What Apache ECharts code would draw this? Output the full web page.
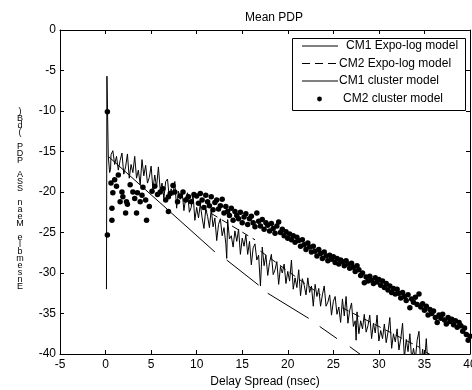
<!DOCTYPE html>
<html><head><meta charset="utf-8">
<script src="https://cdn.jsdelivr.net/npm/echarts@6/dist/echarts.min.js"></script>
<style>html,body{margin:0;padding:0;background:#fff}#c{width:472px;height:390px}</style>
</head><body><div id="c"></div>
<script>
const chartTitle = 'Mean PDP';
const xName = 'Delay Spread (nsec)';
const yName = 'Ensemble Mean SSA PDP (dB)';
const seriesNames = ['CM1 Expo-log model', 'CM2 Expo-log model', 'CM1 cluster model', 'CM2 cluster model'];
const xMin = -5, xMax = 40, yMin = -40, yMax = 0, tickStep = 5;

// CM1 Expo-log model: straight decaying cluster segments ('-' = gap)
const cm1Expo = [
  [0.3,-15.6],[12.0,-27.4],[12.6,'-'],
  [13.3,-28.4],[16.8,-31.5],[17.3,'-'],
  [17.8,-32.5],[22.3,-35.6],[22.9,'-'],
  [23.5,-36.6],[25.4,-38.1],[26.1,'-'],
  [26.8,-39.1],[28.4,-40.4]
];
// CM2 Expo-log model (dashed)
const cm2Expo = [
  [10.5,-21.9],[16.4,-25.9],[16.7,'-'],
  [17.0,-27.3],[23.6,-32.7],[24.8,'-'],
  [26.0,-34.3],[34.5,-39.2],[34.8,'-'],
  [35.2,-39.8],[36.5,-40.6]
];
// CM1 cluster model (jagged solid line)
const cm1Cluster = [
  [0.1,-32.0],[0.15,-5.7],[0.3,-15.6],[0.45,-17.6],[0.55,-17.2],[0.6,-15.4],
  [0.8,-14.9],[1.0,-16.6],[1.2,-15.6],[1.4,-17.3],[1.6,-16.1],[1.8,-15.2],[2.0,-17.8],[2.2,-16.9],[2.4,-15.3],[2.6,-18.3],
  [2.8,-16.6],[3.0,-17.6],[3.2,-15.6],[3.4,-18.3],[3.6,-17.3],[3.8,-19.1],[4.0,-16.0],[4.2,-18.0],[4.4,-16.7],[4.6,-18.9],
  [4.8,-18.2],[5.0,-16.8],[5.2,-19.7],[5.4,-17.9],[5.6,-19.4],[5.8,-16.9],[6.0,-19.8],[6.2,-18.9],[6.4,-20.8],[6.6,-18.7],
  [6.8,-18.4],[7.0,-20.8],[7.2,-19.6],[7.4,-20.4],[7.6,-18.7],[7.8,-22.0],[8.0,-19.9],[8.2,-20.9],[8.4,-19.9],[8.6,-22.3],
  [8.8,-20.7],[9.0,-20.1],[9.2,-22.5],[9.4,-21.9],[9.6,-20.2],[9.8,-23.5],[10.0,-21.9],[10.2,-23.2],[10.4,-21.5],[10.6,-23.2],
  [10.8,-24.5],[11.0,-22.1],[11.2,-23.0],[11.4,-24.4],[11.6,-22.1],[11.8,-24.3],[12.0,-23.2],[12.2,-26.0],[12.4,-24.0],[12.6,-23.3],
  [12.8,-25.4],[13.0,-24.4],[13.2,-26.4],[13.3,-28.2],[13.4,-23.4],[13.6,-25.8],[13.8,-25.4],[14.0,-26.8],[14.2,-24.8],[14.4,-26.1],
  [14.6,-24.6],[14.8,-27.7],[15.0,-25.7],[15.2,-26.7],[15.4,-25.3],[15.6,-27.7],[15.8,-26.1],[16.0,-29.0],[16.2,-26.9],[16.4,-26.4],
  [16.6,-28.4],[16.8,-27.8],[17.0,-31.6],[17.2,-26.8],[17.4,-29.1],[17.6,-27.8],[17.8,-30.3],[18.0,-28.7],[18.2,-27.7],[18.4,-30.2],
  [18.6,-29.6],[18.8,-28.6],[19.0,-31.4],[19.2,-29.2],[19.4,-30.0],[19.6,-28.9],[19.8,-31.3],[20.0,-29.8],[20.2,-31.0],[20.4,-28.4],
  [20.6,-32.0],[20.8,-30.6],[21.0,-31.8],[21.2,-29.6],[21.4,-32.8],[21.6,-30.7],[21.8,-31.5],[22.0,-32.7],[22.2,-30.6],[22.4,-32.4],
  [22.6,-31.6],[22.8,-34.1],[23.0,-31.4],[23.2,-32.9],[23.4,-31.9],[23.6,-34.1],[23.8,-32.7],[24.0,-31.6],[24.2,-34.1],[24.4,-33.6],
  [24.6,-32.7],[24.8,-35.2],[25.0,-33.5],[25.2,-32.9],[25.4,-35.1],[25.6,-34.2],[25.8,-36.1],[26.0,-33.2],[26.2,-35.3],[26.4,-32.9],
  [26.6,-36.2],[26.8,-34.6],[27.0,-33.7],[27.2,-36.6],[27.4,-35.9],[27.5,-38.3],[27.6,-34.8],[27.8,-37.5],[28.0,-35.9],[28.2,-36.9],
  [28.4,-35.1],[28.6,-37.3],[28.8,-36.5],[29.0,-35.2],[29.2,-38.1],[29.4,-36.2],[29.6,-37.4],[29.8,-35.2],[30.0,-38.4],[30.2,-37.1],
  [30.4,-38.1],[30.6,-36.3],[30.8,-38.6],[31.0,-37.3],[31.2,-35.5],[31.4,-39.3],[31.6,-37.5],[31.8,-38.5],[32.0,-36.9],[32.2,-39.5],
  [32.4,-38.1],[32.6,-36.2],[32.8,-40.5],[33.0,-38.2],[33.2,-39.7],[33.4,-37.5],[33.6,-40.7],[33.8,-39.3],[34.0,-40.7],[34.2,-38.3],
  [34.4,-37.2],[34.6,-41.7],[34.8,-39.4],[35.0,-41.2],[35.2,-38.1],[35.4,-41.8],[35.6,-40.2],[35.8,-41.9]
];
// CM2 cluster model (dots)
const cm2Cluster = [
  [0.2,-10.1],[0.2,-25.3],[0.6,-18.9],[0.7,-22.0],[0.7,-23.5],[0.8,-20.1],[1.0,-18.5],[1.2,-19.3],[1.4,-17.9],[1.6,-21.2],
  [1.8,-20.0],[1.9,-20.6],[2.2,-22.6],[2.3,-21.2],[2.4,-21.5],[2.7,-19.1],[3.0,-20.0],[3.2,-20.8],[3.4,-22.6],[3.5,-20.1],
  [3.8,-21.2],[4.0,-20.4],[4.1,-19.4],[4.4,-21.0],[4.5,-23.5],[4.8,-21.8],[5.1,-19.9],[5.4,-19.3],[5.7,-20.3],[6.0,-20.0],
  [6.3,-19.6],[6.6,-21.0],[6.9,-20.6],[6.9,-22.4],[7.1,-20.2],[7.4,-19.2],[7.6,-20.0],[7.9,-21.2],[8.2,-20.5],[8.5,-20.0],
  [8.8,-21.0],[9.1,-20.6],[9.4,-21.2],[9.7,-20.3],
  [10.0,-20.5],[10.2,-21.4],[10.4,-20.2],[10.6,-21.0],[10.8,-21.9],[11.0,-20.4],[11.2,-21.2],[11.4,-21.7],[11.6,-20.6],[11.8,-22.2],
  [12.0,-21.3],[12.2,-21.0],[12.4,-22.1],[12.6,-21.7],[12.8,-20.9],[13.0,-22.6],[13.2,-21.8],[13.4,-22.4],[13.6,-22.9],[13.8,-22.0],
  [14.0,-23.5],[14.2,-22.4],[14.4,-22.9],[14.6,-23.3],[14.8,-22.5],[15.0,-23.8],[15.2,-23.1],[15.4,-22.7],[15.6,-24.0],[15.8,-23.3],
  [16.0,-23.0],[16.2,-23.8],[16.4,-24.3],[16.6,-22.6],[16.8,-23.6],[17.0,-24.2],[17.2,-23.4],[17.4,-24.6],[17.6,-23.8],[17.8,-24.1],
  [18.0,-24.8],[18.2,-23.9],[18.4,-24.5],[18.6,-25.1],[18.8,-24.2],[19.0,-23.7],[19.2,-25.0],[19.4,-24.6],[19.6,-25.4],[19.8,-24.9],
  [20.0,-25.7],[20.2,-25.2],[20.4,-25.9],[20.6,-25.4],[20.8,-26.2],[21.0,-25.6],[21.2,-26.0],[21.4,-26.7],[21.6,-25.9],[21.8,-26.5],
  [22.0,-27.1],[22.2,-26.3],[22.4,-26.8],[22.6,-27.4],[22.8,-26.7],[23.0,-27.3],[23.2,-27.9],[23.4,-27.1],[23.6,-27.6],[23.8,-28.2],
  [24.0,-27.4],[24.2,-27.9],[24.4,-28.5],[24.6,-27.8],[24.8,-28.3],[25.0,-28.0],[25.2,-28.7],[25.4,-28.2],[25.6,-28.9],[25.8,-28.4],
  [26.0,-28.6],[26.2,-29.1],[26.4,-28.5],[26.6,-28.9],[26.8,-29.4],[27.0,-28.8],[27.2,-29.3],[27.4,-29.8],[27.6,-29.1],[27.8,-29.6],
  [28.0,-30.3],[28.2,-30.0],[28.4,-31.2],[28.6,-30.5],[28.8,-31.0],[29.0,-30.4],[29.2,-30.9],[29.4,-31.3],[29.6,-30.6],[29.8,-31.1],
  [30.0,-30.8],[30.2,-31.5],[30.4,-31.0],[30.6,-31.8],[30.8,-31.3],[31.0,-32.1],[31.2,-31.6],[31.4,-32.4],[31.6,-31.9],[31.8,-32.6],
  [32.0,-32.0],[32.2,-32.5],[32.4,-33.1],[32.6,-32.4],[32.8,-32.9],[33.0,-33.4],[33.2,-32.7],[33.4,-34.3],[33.6,-33.2],[33.8,-33.6],
  [34.0,-33.0],[34.2,-33.9],[34.4,-32.6],[34.6,-34.2],[34.8,-33.8],[35.0,-34.6],[35.2,-34.1],[35.4,-35.2],[35.6,-34.5],[35.8,-35.0],
  [36.0,-34.7],[36.2,-35.5],[36.4,-36.1],[36.6,-35.2],[36.8,-35.6],[37.0,-35.1],[37.2,-35.8],[37.4,-36.3],[37.6,-35.5],[37.8,-36.0],
  [38.0,-35.7],[38.2,-36.4],[38.4,-35.9],[38.6,-36.7],[38.8,-36.1],[39.0,-36.5],[39.2,-37.2],[39.4,-36.8],[39.6,-37.6],[39.8,-38.3],
  [40.0,-37.8]
];

const FONT = 'Liberation Sans, Arial, sans-serif';
const chart = echarts.init(document.getElementById('c'), null, {renderer: 'canvas'});

function valAxis(common) {
  return Object.assign({
    type: 'value',
    interval: tickStep,
    axisLine: {show: true, onZero: false, lineStyle: {color: '#000', width: 1}},
    axisTick: {show: true, inside: true, length: 4, lineStyle: {color: '#000'}},
    splitLine: {show: false},
    axisLabel: {color: '#000', fontSize: 11, fontFamily: FONT}
  }, common);
}

// Legend drawn as graphic elements
const LX = 292.5, LY = 38.5, LW = 173, LH = 72;
const rowY = [46, 63.5, 81, 99];
const textX = [346, 339, 339, 343];
const legendEls = [
  {type: 'rect', shape: {x: LX, y: LY, width: LW, height: LH}, style: {fill: '#fff', stroke: '#000', lineWidth: 1}, z: 100},
  {type: 'line', shape: {x1: 302, y1: rowY[0], x2: 338, y2: rowY[0]}, style: {stroke: '#000', lineWidth: 1}, z: 101},
  {type: 'line', shape: {x1: 302, y1: rowY[1], x2: 338, y2: rowY[1]}, style: {stroke: '#000', lineWidth: 1, lineDash: [8, 5]}, z: 101},
  {type: 'line', shape: {x1: 302, y1: rowY[2], x2: 338, y2: rowY[2]}, style: {stroke: '#000', lineWidth: 1}, z: 101},
  {type: 'circle', shape: {cx: 319.5, cy: rowY[3], r: 2.4}, style: {fill: '#000'}, z: 101}
];
seriesNames.forEach(function (n, i) {
  legendEls.push({type: 'text', x: textX[i], y: rowY[i], z: 101,
    style: {text: n, fill: '#000', font: '12px ' + FONT, textVerticalAlign: 'middle', textAlign: 'left'}});
});

const option = {
  backgroundColor: '#fff',
  animation: false,
  title: {text: chartTitle, left: 240, top: 7, textStyle: {fontSize: 12, fontWeight: 'normal', color: '#000', fontFamily: FONT}},
  grid: {left: 60, right: 2, top: 30, bottom: 36, containLabel: false, outerBoundsMode: 'none'},
  xAxis: [
    valAxis({min: xMin, max: xMax, position: 'bottom', name: xName, nameLocation: 'middle', nameGap: 22,
      nameTextStyle: {color: '#000', fontSize: 12, fontFamily: FONT}, axisLabel: {color: '#000', fontSize: 12, fontFamily: FONT, margin: 5}}),
    valAxis({min: xMin, max: xMax, position: 'top', axisLabel: {show: false}})
  ],
  yAxis: [
    valAxis({min: yMin, max: yMax, position: 'left', axisLabel: {color: '#000', fontSize: 12, fontFamily: FONT, margin: 4}}),
    valAxis({min: yMin, max: yMax, position: 'right', axisLabel: {show: false}})
  ],
  graphic: [
    {type: 'text', x: 20, y: 108, style: {text: yName.split('').reverse().join('\n'), fill: '#000',
      font: '9px ' + FONT, lineHeight: 7, textAlign: 'center'}},
    {type: 'group', children: legendEls}
  ],
  series: [
    {name: seriesNames[0], type: 'line', data: cm1Expo, symbol: 'none', connectNulls: false,
      lineStyle: {color: '#000', width: 1}, z: 3},
    {name: seriesNames[1], type: 'line', data: cm2Expo, symbol: 'none', connectNulls: false,
      lineStyle: {color: '#000', width: 1, type: [7, 5]}, z: 3},
    {name: seriesNames[2], type: 'line', data: cm1Cluster, symbol: 'none',
      lineStyle: {color: '#000', width: 1}, z: 4},
    {name: seriesNames[3], type: 'scatter', data: cm2Cluster, symbol: 'circle', symbolSize: 5.5,
      itemStyle: {color: '#000', opacity: 1}, z: 5}
  ]
};
chart.setOption(option);
</script></body></html>
